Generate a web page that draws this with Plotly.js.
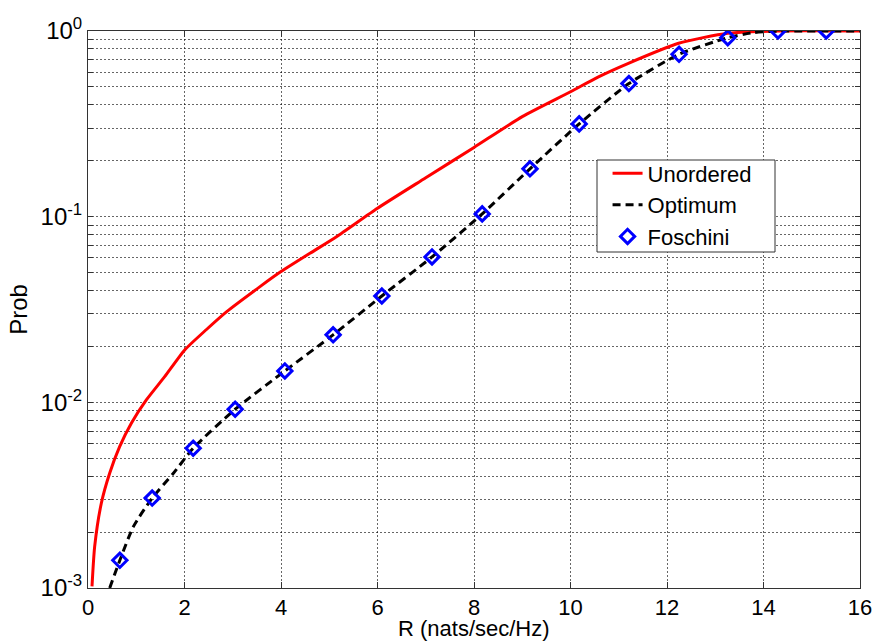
<!DOCTYPE html>
<html>
<head>
<meta charset="utf-8">
<script src="https://cdn.plot.ly/plotly-3.0.1.min.js"></script>
<style>html,body{margin:0;padding:0;background:#fff;}#chart{width:876px;height:643px;}</style>
</head>
<body>
<div id="chart"></div>
<script>
// Unordered (red solid)
const unorderedR = [0.083, 0.138, 0.276, 0.449, 0.656, 0.898, 1.209, 1.589, 2.0, 2.45, 2.875, 3.565, 4.0, 4.6, 5.15, 6, 7, 8, 9, 10, 10.57, 11.2, 12.24, 13.26, 14.3, 16];
const unorderedP = [0.00102, 0.00167, 0.00286, 0.00415, 0.00577, 0.00771, 0.0103, 0.01375, 0.0191, 0.0246, 0.0308, 0.042, 0.0506, 0.0635, 0.078, 0.111, 0.162, 0.236, 0.346, 0.471, 0.565, 0.67, 0.859, 0.972, 1.0, 1.0];

// Optimum (black dashed)
const optimumR = [0.45, 0.66, 0.94, 1.33, 1.77, 2.18, 3.05, 4.08, 5.08, 6.09, 7.13, 8.17, 9.16, 10.18, 11.21, 12.25, 13.26, 13.79, 14.3, 16];
const optimumP = [0.001, 0.00141, 0.00214, 0.00305, 0.00415, 0.00566, 0.00918, 0.01476, 0.0231, 0.0374, 0.0607, 0.1035, 0.181, 0.316, 0.521, 0.749, 0.92, 0.98, 0.998, 1.0];

// Foschini (blue diamonds)
const foschiniR = [0.66, 1.33, 2.18, 3.05, 4.08, 5.08, 6.09, 7.13, 8.17, 9.16, 10.18, 11.21, 12.25, 13.26, 14.3, 15.3];
const foschiniP = [0.00141, 0.00305, 0.00566, 0.00918, 0.01476, 0.0231, 0.0374, 0.0607, 0.1035, 0.181, 0.316, 0.521, 0.749, 0.92, 1.0, 1.0];

const xTicks = [0, 2, 4, 6, 8, 10, 12, 14, 16];
const yDecades = [0.001, 0.01, 0.1, 1];
const yDecadeLabels = ["10<sup>-3</sup>", "10<sup>-2</sup>", "10<sup>-1</sup>", "10<sup>0</sup>"];
const xTitle = 'R (nats/sec/Hz)';
const yTitle = 'Prob';

// y tick list (all 1..9 multiples per decade), label only decades
const yTickVals = [];
const yTickText = [];
for (let d = 0; d < yDecades.length; d++) {
  const base = yDecades[d];
  const maxM = (d === yDecades.length - 1) ? 1 : 9;
  for (let m = 1; m <= maxM; m++) {
    yTickVals.push(base * m);
    yTickText.push(m === 1 ? yDecadeLabels[d] : "");
  }
}

const traces = [
  {x: unorderedR, y: unorderedP, mode: 'lines', name: 'Unordered',
   line: {color: '#ff0000', width: 3, shape: 'spline', smoothing: 0.6}},
  {x: optimumR, y: optimumP, mode: 'lines', name: 'Optimum',
   line: {color: '#000000', width: 3, dash: '8px,5px', shape: 'spline', smoothing: 0.6}},
  {x: foschiniR, y: foschiniP, mode: 'markers', name: 'Foschini',
   marker: {symbol: 'diamond-open', size: 11, color: '#0000ff', line: {color: '#0000ff', width: 3}}}
];

const gridColor = 'rgba(0,0,0,0.6)';
const layout = {
  width: 876, height: 643,
  margin: {l: 88, r: 16, t: 31, b: 55},
  paper_bgcolor: '#ffffff', plot_bgcolor: '#ffffff',
  font: {family: 'Arial, "Liberation Sans", sans-serif', size: 24, color: '#000'},
  showlegend: true,
  legend: {x: 0.673, y: 0.782, xanchor: 'left', yanchor: 'top',
    bgcolor: 'rgba(0,0,0,0)', borderwidth: 0,
    font: {size: 22}, tracegroupgap: 0},
  shapes: [
    {type: 'rect', xref: 'paper', yref: 'paper', layer: 'above',
     x0: (597 - 88) / 772, x1: (775 - 88) / 772,
     y0: (588 - 252) / 557, y1: (588 - 160) / 557,
     fillcolor: '#ffffff', line: {color: '#333', width: 1}}
  ],
  annotations: [
    {text: xTitle, xref: 'paper', yref: 'paper', x: 0.5, y: (588 - 643) / 557,
     xanchor: 'center', yanchor: 'bottom', showarrow: false, font: {size: 22}}
  ],
  xaxis: {
    range: [0, 16], tickvals: xTicks, ticktext: xTicks.map(String),
    tickfont: {size: 22},
    ticks: 'inside', ticklen: 6, tickcolor: '#333',
    showline: true, linecolor: '#333', linewidth: 1, mirror: 'ticks',
    showgrid: true, gridcolor: gridColor, griddash: '2px,2px', gridwidth: 1,
    zeroline: false
  },
  yaxis: {
    type: 'log', range: [-3, 0],
    tickvals: yTickVals, ticktext: yTickText,
    ticks: 'inside', ticklen: 5, tickcolor: '#333',
    showline: true, linecolor: '#333', linewidth: 1, mirror: 'ticks',
    showgrid: true, gridcolor: gridColor, griddash: '2px,2px', gridwidth: 1,
    zeroline: false,
    title: {text: yTitle, font: {size: 24}, standoff: 6}
  }
};

Plotly.newPlot('chart', traces, layout, {staticPlot: true});
</script>
</body>
</html>
